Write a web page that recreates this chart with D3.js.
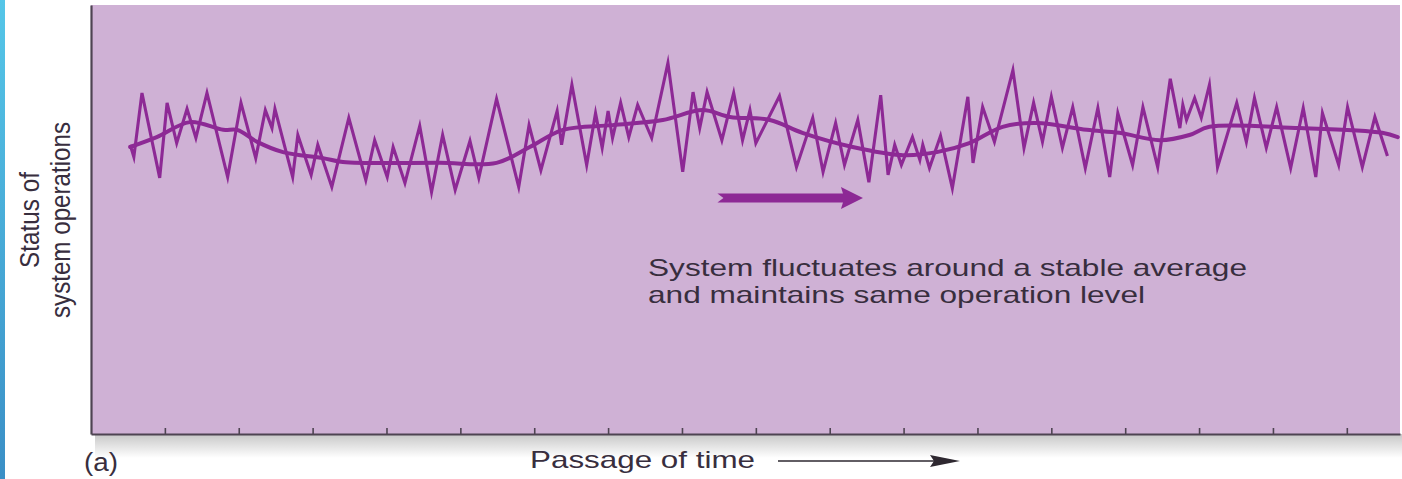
<!DOCTYPE html>
<html>
<head>
<meta charset="utf-8">
<script src="https://d3js.org/d3.v7.min.js"></script>
<style>
  body { margin:0; background:#fff; }
  svg { display:block; font-family:"Liberation Sans", Arial, sans-serif; }
</style>
</head>
<body>
<svg id="chart" width="1402" height="479"></svg>
<script>
// time in tenths of a tick interval, status in % of plot height
const zigTime = [5.3,5.8,6.9,9.3,10.3,11.6,13.0,14.2,15.7,18.5,20.3,22.3,23.6,24.5,24.9,27.3,28.0,29.8,30.7,32.6,
  34.9,37.2,38.4,40.1,40.9,42.5,44.5,46.1,47.6,49.3,51.3,52.5,54.9,57.9,59.3,60.9,63.1,63.7,65.1,67.1,
  68.3,69.2,70.0,70.6,71.7,72.8,74.0,75.9,78.1,80.1,81.5,82.4,83.4,85.4,87.0,88.2,89.2,90.0,93.2,95.5,
  97.7,99.1,100.8,102.0,103.8,105.3,106.9,107.9,108.8,109.7,111.2,112.2,112.6,113.5,115.0,116.6,118.7,119.4,120.7,122.3,
  124.8,126.3,127.6,128.8,130.0,131.5,132.9,134.6,136.3,137.9,139.0,141.0,142.4,144.4,146.1,147.4,147.8,148.3,149.4,150.3,
  151.4,152.5,155.1,156.4,157.5,159.1,160.5,162.4,164.1,165.8,166.7,168.9,170.1,172.1,173.8,175.5];
const zigStatus = [67.4,64.6,79.5,59.7,77.2,67.8,75.8,69.0,79.5,59.9,77.2,64.3,75.5,71.3,75.8,59.9,69.7,60.4,67.4,57.6,
  73.7,59.2,68.5,59.9,66.9,58.5,71.8,56.4,69.7,56.9,68.3,59.7,78.1,57.6,72.0,61.5,75.3,67.4,81.4,62.7,
  74.8,66.7,75.3,69.0,77.2,69.2,76.7,69.0,86.5,61.1,79.7,71.3,79.7,68.5,79.5,68.5,75.5,67.8,78.8,62.2,
  73.7,61.1,72.5,62.7,73.2,58.7,79.0,60.4,67.4,62.7,69.2,63.9,67.4,62.0,69.5,57.3,78.6,63.2,76.2,68.1,
  84.8,66.7,77.2,68.1,78.6,66.7,76.2,62.0,76.0,59.9,74.8,62.7,76.2,62.2,82.8,71.3,76.7,73.2,78.3,73.7,
  81.4,62.2,77.2,68.1,78.3,66.7,76.2,62.0,76.0,59.9,74.8,62.7,76.2,62.2,73.9,64.8];

const avgTime = [5.3,8.9,13.4,17.9,19.8,22.5,26.0,31.4,34.1,47.2,54.9,59.4,63.9,70.6,77.4,82.8,86.5,91.9,96.3,103.1,
  109.9,114.5,118.9,123.4,128.0,134.8,139.2,144.7,148.7,151.4,163.6,174.8,176.9];
const avgStatus = [66.9,69.2,72.7,70.9,70.9,68.1,65.7,64.3,63.4,63.2,63.2,66.9,70.9,72.0,73.2,75.5,73.9,73.2,70.2,66.9,
  65.0,65.7,67.8,71.6,72.5,70.9,70.2,68.5,69.7,71.6,71.3,70.2,69.2];

const tickTimes = [10,20,30,40,50,60,70,80,90,100,110,120,130,140,150,160,170];

const noteLines = ["System fluctuates around a stable average", "and maintains same operation level"];
const yLabelLines = ["Status of", "system operations"];
const xLabel = "Passage of time";
const panelLabel = "(a)";

const lineColor = "#8d2995";
const textColor = "#382e3e";
const svg = d3.select("#chart");
const x0 = 91, x1 = 1400, yTop = 5, yBot = 434;

const x = d3.scaleLinear().domain([0, 177.2]).range([x0, x1]);
const y = d3.scaleLinear().domain([0, 100]).range([yBot, yTop]);

const defs = svg.append("defs");
const strip = defs.append("linearGradient").attr("id", "strip").attr("x1", 0).attr("y1", 0).attr("x2", 0).attr("y2", 1);
strip.append("stop").attr("offset", "0%").attr("stop-color", "#55c6e8");
strip.append("stop").attr("offset", "100%").attr("stop-color", "#3a8fc6");
const shadow = defs.append("linearGradient").attr("id", "shadow").attr("x1", 0).attr("y1", 0).attr("x2", 0).attr("y2", 1);
shadow.append("stop").attr("offset", "0%").attr("stop-color", "#000").attr("stop-opacity", 0.22);
shadow.append("stop").attr("offset", "100%").attr("stop-color", "#000").attr("stop-opacity", 0);

svg.append("rect").attr("x", 0).attr("y", 0).attr("width", 5).attr("height", 479).attr("fill", "url(#strip)");
svg.append("rect").attr("x", x0 + 4).attr("y", yBot).attr("width", x1 - x0).attr("height", 24).attr("fill", "url(#shadow)");

// plot panel
svg.append("rect").attr("x", x0).attr("y", yTop).attr("width", x1 - x0).attr("height", yBot - yTop).attr("fill", "#cfb1d5");

// axes
const xAxis = svg.append("g").attr("transform", `translate(0,${yBot})`)
  .call(d3.axisBottom(x).tickValues(tickTimes).tickSize(-6).tickSizeOuter(0).tickFormat(""));
xAxis.select(".domain").attr("stroke", "#4e4452").attr("stroke-width", 2.2);
xAxis.selectAll(".tick line").attr("stroke", "#4e4452").attr("stroke-width", 1.6);

const yAxis = svg.append("g").attr("transform", `translate(${x0},0)`)
  .call(d3.axisLeft(y).tickValues([]).tickSizeOuter(0));
yAxis.select(".domain").attr("stroke", "#4e4452").attr("stroke-width", 2.2);

// series
const zig = zigTime.map((t, i) => [t, zigStatus[i]]);
const avg = avgTime.map((t, i) => [t, avgStatus[i]]);

svg.append("path").datum(avg)
  .attr("fill", "none").attr("stroke", lineColor).attr("stroke-width", 4)
  .attr("stroke-linecap", "round")
  .attr("d", d3.line().x(d => x(d[0])).y(d => y(d[1])).curve(d3.curveCatmullRom.alpha(0.5)));

svg.append("path").datum(zig)
  .attr("fill", "none").attr("stroke", lineColor).attr("stroke-width", 3.1)
  .attr("stroke-linejoin", "miter").attr("stroke-miterlimit", 6)
  .attr("d", d3.line().x(d => x(d[0])).y(d => y(d[1])));

// direction arrow inside plot
const arrowTime = [84.8, 104.5];
const arrowStatus = 55.0;
const ax0 = x(arrowTime[0]), ax1 = x(arrowTime[1]), ay = y(arrowStatus);
svg.append("path")
  .attr("fill", lineColor)
  .attr("d", `M${ax0},${ay - 4.5} L${ax1 - 20},${ay - 4.5} L${ax1 - 22},${ay - 11} L${ax1},${ay} L${ax1 - 22},${ay + 11} L${ax1 - 20},${ay + 4.5} L${ax0},${ay + 4.5} L${ax0 + 6},${ay} Z`);

// note
const note = svg.append("g").attr("fill", textColor).style("font-size", "24px");
note.selectAll("text").data(noteLines).join("text")
  .attr("x", 648).attr("y", (d, i) => 276 + i * 27)
  .attr("textLength", (d, i) => i === 0 ? 599 : 497)
  .attr("lengthAdjust", "spacingAndGlyphs")
  .text(d => d);

// y label
svg.append("g").attr("fill", textColor).style("font-size", "27px")
  .selectAll("text").data(yLabelLines).join("text")
  .attr("text-anchor", "middle")
  .attr("textLength", (d, i) => i === 0 ? 96 : 196)
  .attr("lengthAdjust", "spacingAndGlyphs")
  .attr("transform", (d, i) => `translate(${i === 0 ? 39 : 70},220) rotate(-90)`)
  .text(d => d);

// bottom labels
svg.append("text").attr("x", 84).attr("y", 471).attr("fill", textColor).style("font-size", "25px")
  .attr("textLength", 34).attr("lengthAdjust", "spacingAndGlyphs").text(panelLabel);
svg.append("text").attr("x", 530).attr("y", 468).attr("fill", textColor).style("font-size", "24px")
  .attr("textLength", 225).attr("lengthAdjust", "spacingAndGlyphs").text(xLabel);

svg.append("line").attr("x1", 778).attr("x2", 940).attr("y1", 461).attr("y2", 461)
  .attr("stroke", "#2e2830").attr("stroke-width", 1.6);
svg.append("path").attr("fill", "#2e2830")
  .attr("d", "M930,455 L960,461 L930,467 L934,461 Z");
</script>
</body>
</html>
